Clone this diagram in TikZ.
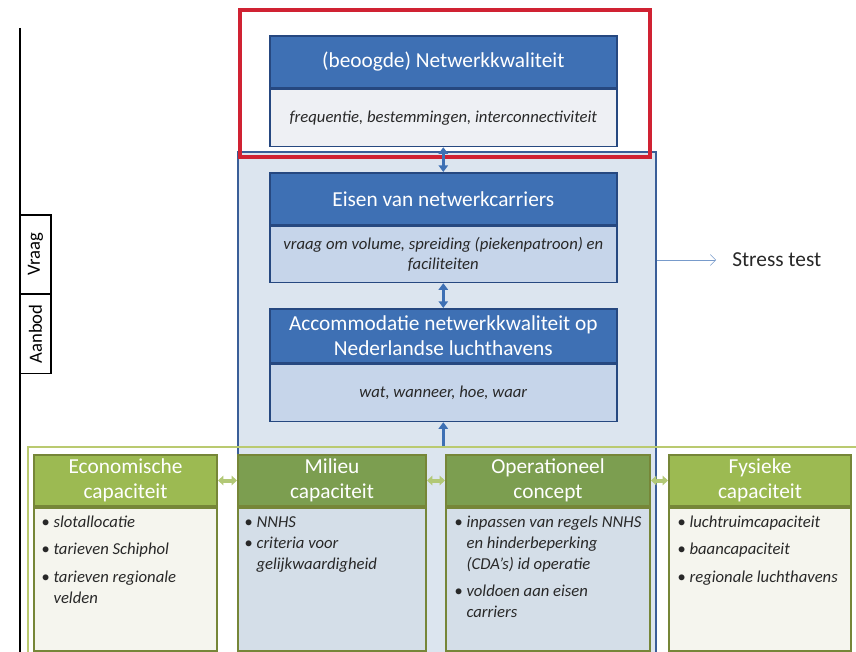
\documentclass[tikz,border=0pt]{standalone}
\usepackage{fontspec}
\setmainfont{Carlito}
\usetikzlibrary{positioning,arrows.meta}
\newlength{\pxu}\setlength{\pxu}{0.75pt}
\newcommand{\hdfont}{\fontsize{16}{18.5}\selectfont}
\newcommand{\bdfont}{\fontsize{12.5}{15.5}\selectfont\itshape}
\newcommand{\lsfont}{\fontsize{12.5}{15.8}\selectfont\itshape}
\definecolor{bluehd}{RGB}{62,112,180}
\definecolor{bluedk}{RGB}{38,72,128}
\definecolor{bluebd}{RGB}{198,213,234}
\definecolor{palebd}{RGB}{238,240,244}
\definecolor{zonefill}{RGB}{220,229,239}
\definecolor{zoneline}{RGB}{58,94,152}
\definecolor{redframe}{RGB}{208,34,50}
\definecolor{greenhd}{RGB}{156,186,82}
\definecolor{greendk}{RGB}{124,158,80}
\definecolor{olive}{RGB}{118,134,56}
\definecolor{greenbd}{RGB}{245,245,238}
\definecolor{mixbd}{RGB}{212,222,232}
\definecolor{bandline}{RGB}{186,202,112}
\definecolor{garrow}{RGB}{178,200,118}
\definecolor{txtgr}{RGB}{40,40,40}

\begin{document}
\begin{tikzpicture}[x=0.75pt, y=-0.75pt,
  hdr/.style={draw=bluedk, fill=bluehd, text=white, font=\hdfont, align=center, line width=1.2pt, minimum width=347\pxu, inner sep=1pt},
  bdy/.style={draw=bluedk, fill=bluebd, text=txtgr, font=\bdfont, align=center, line width=1.2pt, minimum width=347\pxu, inner sep=1pt},
  ghd/.style={draw=olive, fill=greenhd, text=white, font=\hdfont, align=center, line width=1.5pt, minimum height=51\pxu, inner sep=1pt},
  gbd/.style={draw=olive, fill=greenbd, line width=1.5pt, minimum height=143\pxu},
  lst/.style={font=\lsfont, text=txtgr, inner sep=0pt, anchor=north west},
  side/.style={draw=black, rotate=90, font=\fontsize{14}{16}\selectfont, minimum width=79\pxu, minimum height=31\pxu, inner sep=0pt},
  bline/.style={draw=bluehd, line width=2pt},
  barr/.style={bline, {Triangle[length=5pt,width=7pt]}-{Triangle[length=5pt,width=7pt]}},
  uarr/.style={bline, -{Triangle[length=5pt,width=7pt]}},
  garr/.style={draw=garrow, line width=3pt, {Triangle[length=4pt,width=7pt]}-{Triangle[length=4pt,width=7pt]}},
  sarr/.style={draw=bluehd!70, thin, -{Straight Barb[length=4pt]}}]
\useasboundingbox (0,0) rectangle (856,652);
% ---- vraag / aanbod axis ----
\coordinate (astop) at (20,28);
\coordinate (asbot) at (20,652);
\draw[line width=1.5pt] (astop) -- (asbot);
\node[side, line width=2.2pt] (vraag) at (35.5,254.5) {Vraag};
\node[side, line width=0.8pt] (aanbod) at (35.5,334) {Aanbod};
% ---- zones ----
\node[draw=zoneline, fill=zonefill, line width=1.2pt, minimum width=418\pxu, minimum height=520\pxu, anchor=north west] (vraagzone) at (237,151) {};
\node[draw=bandline, line width=1.6pt, minimum width=850\pxu, minimum height=220\pxu, anchor=north west] (aanbodzone) at (27,446) {};
\draw[draw=redframe, line width=3pt] (240,10) rectangle (650,157);
% ---- demand chain ----
\node[hdr, minimum height=52\pxu, anchor=north west] (nkh) at (269,35) {(beoogde) Netwerkkwaliteit};
\node[bdy, fill=palebd, minimum height=57\pxu, below=0pt of nkh] (nkb) {frequentie, bestemmingen, interconnectiviteit};
\node[hdr, minimum height=52\pxu, anchor=north west] (ench) at (269,172) {Eisen van netwerkcarriers};
\node[bdy, minimum height=56\pxu, below=0pt of ench] (encb) {vraag om volume, spreiding (piekenpatroon) en\\ faciliteiten};
\node[hdr, minimum height=54\pxu, anchor=north west] (acch) at (269,308) {Accommodatie netwerkkwaliteit op\\ Nederlandse luchthavens};
\node[bdy, minimum height=57\pxu, below=0pt of acch] (accb) {wat, wanneer, hoe, waar};
\draw[barr] (nkb.south) -- (ench.north);
\draw[barr] (encb.south) -- (acch.north);
\draw[uarr] (accb.south |- aanbodzone.north) -- (accb.south);
\node[font=\fontsize{16}{19}\selectfont, text=txtgr, inner sep=0pt, anchor=west] (stress) at (732,260) {Stress test};
\draw[sarr] (stress.west -| vraagzone.east) -- ([xshift=-16\pxu]stress.west);
% ---- capacities ----
\node[ghd, minimum width=183\pxu, anchor=north west] (ecoh) at (33,454) {Economische\\ capaciteit};
\node[gbd, minimum width=183\pxu, below=0pt of ecoh] (ecob) {};
\node[ghd, fill=greendk, minimum width=188\pxu, anchor=north west] (milh) at (237,454) {Milieu\\ capaciteit};
\node[gbd, fill=mixbd, minimum width=188\pxu, below=0pt of milh] (milb) {};
\node[ghd, fill=greendk, minimum width=204\pxu, anchor=north west] (oph) at (445,454) {Operationeel\\ concept};
\node[gbd, fill=mixbd, minimum width=204\pxu, below=0pt of oph] (opb) {};
\node[ghd, minimum width=182\pxu, anchor=north west] (fysh) at (668,454) {Fysieke\\ capaciteit};
\node[gbd, minimum width=182\pxu, below=0pt of fysh] (fysb) {};
\draw[garr] (ecoh.east) -- (milh.west);
\draw[garr] (milh.east) -- (oph.west);
\draw[garr] (oph.east) -- (fysh.west);
% lists
\node[lst] (ecol) at ([xshift=8\pxu, yshift=-5\pxu]ecob.north west) {\begin{tabular}{@{}l@{\hspace{3pt}}l@{}}
  \textbullet & slotallocatie\\[5pt]
  \textbullet & tarieven Schiphol\\[5pt]
  \textbullet & tarieven regionale\\
   & velden
  \end{tabular}};
\node[lst] (mill) at ([xshift=7\pxu, yshift=-5\pxu]milb.north west) {\begin{tabular}{@{}l@{\hspace{3pt}}l@{}}
  \textbullet & NNHS\\
  \textbullet & criteria voor\\
   & gelijkwaardigheid
  \end{tabular}};
\node[lst] (opl) at ([xshift=9\pxu, yshift=-5\pxu]opb.north west) {\begin{tabular}{@{}l@{\hspace{3pt}}l@{}}
  \textbullet & inpassen van regels NNHS\\
   & en hinderbeperking\\
   & (CDA's) id operatie\\[5pt]
  \textbullet & voldoen aan eisen\\
   & carriers
  \end{tabular}};
\node[lst] (fysl) at ([xshift=9\pxu, yshift=-5\pxu]fysb.north west) {\begin{tabular}{@{}l@{\hspace{3pt}}l@{}}
  \textbullet & luchtruimcapaciteit\\[5pt]
  \textbullet & baancapaciteit\\[5pt]
  \textbullet & regionale luchthavens
  \end{tabular}};
\end{tikzpicture}
\end{document}
